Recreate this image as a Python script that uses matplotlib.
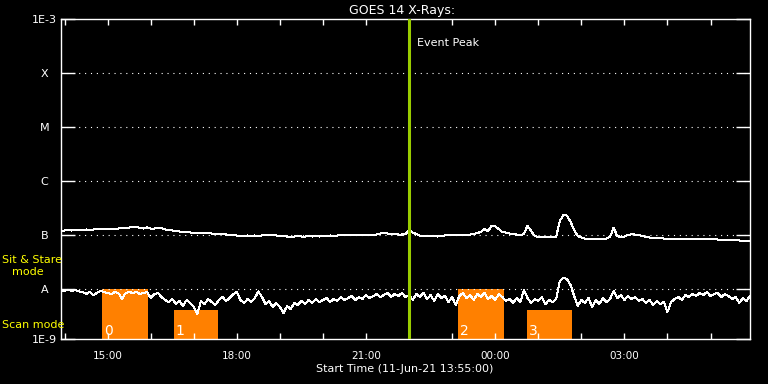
import numpy as np
import pandas as pd
import matplotlib
matplotlib.use("Agg")
import matplotlib.pyplot as plt
import matplotlib.dates as mdates
from matplotlib.ticker import FixedLocator, NullLocator, FuncFormatter

# GOES 14 X-ray flux, 5-minute samples from 11-Jun-21 13:55, log10(W/m^2)
start = pd.Timestamp("2021-06-11 13:55")
times = pd.date_range(start, periods=193, freq="5min")

long_log = [
    -6.917, -6.917, -6.907, -6.917, -6.907, -6.907, -6.907, -6.898, -6.907, -6.898,
    -6.898, -6.898, -6.889, -6.889, -6.889, -6.880, -6.880, -6.870, -6.870, -6.861,
    -6.848, -6.852, -6.870, -6.880, -6.857, -6.880, -6.880, -6.861, -6.870, -6.898,
    -6.907, -6.917, -6.926, -6.935, -6.944, -6.944, -6.954, -6.954, -6.963, -6.963,
    -6.972, -6.972, -6.972, -6.981, -6.981, -6.981, -6.991, -6.991, -7.000, -7.009,
    -7.019, -7.019, -7.009, -7.019, -7.009, -7.019, -7.009, -7.009, -7.009, -7.009,
    -7.009, -7.019, -7.019, -7.028, -7.028, -7.028, -7.019, -7.028, -7.028, -7.019,
    -7.028, -7.019, -7.028, -7.019, -7.019, -7.009, -7.019, -7.009, -7.009, -7.009,
    -7.009, -7.000, -7.009, -7.000, -7.000, -7.000, -6.991, -6.991, -6.991, -6.972,
    -6.957, -6.972, -6.981, -6.981, -6.991, -6.991, -6.981, -6.913, -6.954, -6.981,
    -7.009, -7.019, -7.019, -7.019, -7.019, -7.028, -7.019, -7.009, -7.009, -7.000,
    -7.000, -7.000, -7.000, -6.991, -6.991, -6.981, -6.963, -6.944, -6.894, -6.926,
    -6.833, -6.843, -6.889, -6.944, -6.954, -6.972, -6.981, -6.991, -7.000, -6.981,
    -6.828, -6.926, -7.019, -7.037, -7.037, -7.037, -7.037, -7.037, -7.028, -6.741,
    -6.630, -6.639, -6.759, -6.907, -7.019, -7.046, -7.065, -7.074, -7.083, -7.074,
    -7.074, -7.065, -7.065, -7.037, -6.865, -7.019, -7.037, -7.028, -7.000, -6.987,
    -6.991, -7.000, -7.019, -7.037, -7.046, -7.056, -7.056, -7.056, -7.065, -7.065,
    -7.074, -7.074, -7.074, -7.074, -7.083, -7.083, -7.074, -7.074, -7.083, -7.083,
    -7.083, -7.083, -7.083, -7.083, -7.093, -7.093, -7.093, -7.093, -7.093, -7.102,
    -7.102, -7.102, -7.102,
]

short_log = [
    -8.019, -8.037, -8.009, -8.037, -8.019, -8.046, -8.056, -8.093, -8.056, -8.111,
    -8.074, -8.037, -8.056, -8.074, -8.093, -8.056, -8.074, -8.185, -8.074, -8.056,
    -8.074, -8.056, -8.093, -8.074, -8.056, -8.167, -8.093, -8.074, -8.148, -8.204,
    -8.241, -8.185, -8.278, -8.222, -8.315, -8.204, -8.259, -8.333, -8.463, -8.222,
    -8.278, -8.185, -8.241, -8.296, -8.204, -8.148, -8.222, -8.167, -8.093, -8.056,
    -8.204, -8.259, -8.185, -8.241, -8.167, -8.046, -8.148, -8.278, -8.222, -8.333,
    -8.259, -8.333, -8.444, -8.315, -8.370, -8.259, -8.296, -8.222, -8.278, -8.204,
    -8.259, -8.185, -8.241, -8.204, -8.167, -8.241, -8.185, -8.222, -8.148, -8.204,
    -8.167, -8.130, -8.204, -8.148, -8.185, -8.111, -8.167, -8.130, -8.093, -8.148,
    -8.111, -8.074, -8.148, -8.093, -8.130, -8.074, -8.148, -8.111, -8.204, -8.093,
    -8.148, -8.074, -8.185, -8.111, -8.222, -8.093, -8.167, -8.130, -8.241, -8.148,
    -8.296, -8.130, -8.074, -8.167, -8.111, -8.204, -8.093, -8.148, -8.074, -8.185,
    -8.130, -8.204, -8.093, -8.148, -8.222, -8.185, -8.259, -8.167, -8.241, -8.019,
    -8.167, -8.259, -8.185, -8.222, -8.148, -8.278, -8.204, -8.241, -8.185, -7.852,
    -7.796, -7.815, -7.926, -8.130, -8.315, -8.204, -8.259, -8.167, -8.333, -8.204,
    -8.278, -8.167, -8.241, -8.185, -8.037, -8.167, -8.111, -8.204, -8.130, -8.185,
    -8.148, -8.222, -8.185, -8.259, -8.204, -8.296, -8.222, -8.278, -8.241, -8.426,
    -8.241, -8.185, -8.148, -8.204, -8.111, -8.148, -8.093, -8.130, -8.074, -8.111,
    -8.056, -8.130, -8.093, -8.074, -8.148, -8.093, -8.130, -8.185, -8.148, -8.259,
    -8.167, -8.222, -8.130,
]

level_flux = [1e-8, 1e-7, 1e-6, 1e-5, 1e-4]
level_names = ["A", "B", "C", "M", "X"]

event_peak = pd.Timestamp("2021-06-11 22:00")

# observing modes: tall boxes = sit & stare, short boxes = scan
mode_start = pd.to_datetime(["2021-06-11 14:52", "2021-06-11 16:32",
                             "2021-06-11 23:08", "2021-06-12 00:44"])
mode_end = pd.to_datetime(["2021-06-11 15:56", "2021-06-11 17:34",
                           "2021-06-12 00:12", "2021-06-12 01:47"])
mode_top = [1e-8, 4.1e-9, 1e-8, 4.1e-9]
mode_ids = ["0", "1", "2", "3"]

y_bottom = 10 ** (-3 - 320 / 54)
y_top = 1e-3

fig = plt.figure(figsize=(7.68, 3.84), dpi=100, facecolor="black")
ax = fig.add_axes([61 / 768, 45 / 384, 689 / 768, 320 / 384], facecolor="black")
ax.set_yscale("log")
ax.set_ylim(y_bottom, y_top)
ax.set_xlim(times[0], times[-1])

x0 = mdates.date2num(mode_start)
x1 = mdates.date2num(mode_end)
ax.bar(x0, np.array(mode_top) - y_bottom, width=x1 - x0, bottom=y_bottom,
       align="edge", color="#ff8000", linewidth=0, zorder=1)
for xs, lab in zip(x0, mode_ids):
    ax.annotate(lab, xy=(xs, 0), xycoords=("data", "axes fraction"),
                xytext=(1.5, 1), textcoords="offset points",
                color="white", fontsize=10, ha="left", va="bottom", zorder=2)

for lvl in level_flux:
    ax.axhline(lvl, color="white", lw=0.8, ls=(0, (1, 4.3)), zorder=2)

ax.plot(times, 10 ** np.array(long_log), color="white", lw=0.72,
        antialiased=False, zorder=3)
ax.plot(times, 10 ** np.array(short_log), color="white", lw=0.72,
        antialiased=False, zorder=3)

ax.axvline(event_peak, color="#99cc00", lw=2.2, zorder=4)
ax.annotate("Event Peak", xy=(event_peak, 0.925), xycoords=("data", "axes fraction"),
            xytext=(6, 0), textcoords="offset points", color="white",
            fontsize=8, ha="left", va="center")

# axes styling
for sp in ax.spines.values():
    sp.set_color("white")
    sp.set_linewidth(1)

ax.yaxis.set_major_locator(FixedLocator([y_bottom] + level_flux + [y_top]))
ax.yaxis.set_minor_locator(NullLocator())
ax.set_yticklabels(["1E-9"] + level_names + ["1E-3"])
ax.tick_params(axis="y", which="major", direction="in", length=10, width=1,
               color="white", labelcolor="white", labelsize=8, right=True, pad=12)
for t in ax.get_yticklabels():
    t.set_horizontalalignment("center")

ax.xaxis.set_major_locator(mdates.HourLocator(interval=1))
ax.xaxis.set_major_formatter(FuncFormatter(
    lambda v, pos: mdates.num2date(v).strftime("%H:%M")
    if mdates.num2date(v).hour % 3 == 0 else ""))
ax.tick_params(axis="x", which="major", direction="in", length=4.3, width=1,
               color="white", labelcolor="white", labelsize=7.5, top=True, pad=8.5)

fig.text(402 / 768, 1 - 14 / 384, "GOES 14 X-Rays:", color="white", fontsize=9,
         ha="center", va="baseline")
fig.text(405 / 768, 1 - 371.5 / 384, "Start Time (11-Jun-21 13:55:00)", color="white",
         fontsize=8, ha="center", va="baseline")
fig.text(2 / 768, 1 - 263 / 384, "Sit & Stare", color="#ffff00", fontsize=8,
         ha="left", va="baseline")
fig.text(12 / 768, 1 - 275 / 384, "mode", color="#ffff00", fontsize=8,
         ha="left", va="baseline")
fig.text(2 / 768, 1 - 328 / 384, "Scan mode", color="#ffff00", fontsize=8,
         ha="left", va="baseline")

fig.savefig("out.png", dpi=100, facecolor="black")
